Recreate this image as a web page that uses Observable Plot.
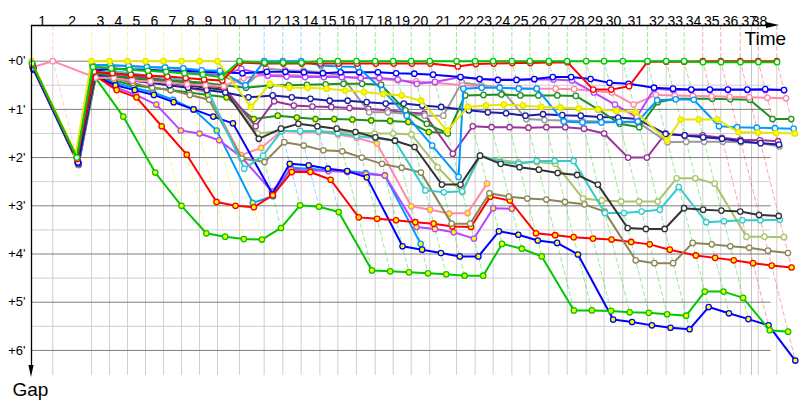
<!DOCTYPE html>
<html><head><meta charset="utf-8">
<script src="https://cdn.jsdelivr.net/npm/d3@7"></script>
<script src="https://cdn.jsdelivr.net/npm/@observablehq/plot@0.6"></script>
<style>body{margin:0;background:#fff;} #chart svg{display:block;}</style>
</head><body><div id="chart"></div>
<script>
// Leader's lap completion times (minutes), lap 0..38
const leaderTime = [0, 1.775, 5.0, 6.5, 8.0, 9.5, 11.0, 12.5, 14.0, 15.5, 17.33, 19.39, 20.94, 22.47, 24.03, 25.53, 27.08, 28.64, 30.14, 31.64, 33.19, 35.42, 36.97, 38.47, 40.03, 41.53, 43.11, 44.64, 46.22, 47.72, 49.28, 51.33, 52.89, 54.39, 55.94, 57.44, 59.06, 60.56, 62.11];
const raceEnd = 60;
const lapLabels = d3.range(1, 39).map(String);
const yTickLabels = ["+0'", "+1'", "+2'", "+3'", "+4'", "+5'", "+6'"];
// colour of the leader on each lap (1..38)
const lapLeaderColor = ["#ff88a8","#e6e600","#e6e600","#e6e600","#e6e600","#e6e600","#e6e600","#e6e600","#e6e600","#00c800","#0099ff","#0099ff","#0099ff","#00c800","#00c800","#00c800","#00c800","#00c800","#00c800","#00c800","#00c800","#00c800","#00c800","#00c800","#00c800","#00c800","#00c800","#00c800","#00c800","#00c800","#00c800","#00c800","#00c800","#ff2020","#ff2020","#ff2020","#ff2020","#ff2020"];

// gaps to leader (minutes) per lap, from lap 0
const gLB2 = [0.14,2.13,0.28, 0.45,0.55,0.65,0.8,1.0,1.44,2.94, 2.8, 2.21,2.23,2.27,2.28,2.32,2.37,3.79];
const gV2  = [0.15,2.1,0.3, 0.55,0.7,0.9,1.44,1.5,1.64,1.99, 2.7, 2.25,2.27,2.28,2.3,2.34,2.37,3.44,3.48,3.55,3.68, 3.05,3.06];
const gP2  = [0.13,2.08,0.3, 0.35,0.4,0.45,0.5,0.55,0.65,1.95, 1.8, 1.45,1.47,1.47,1.52,1.59,1.71,3.01,3.08,3.16,3.15, 2.54];
const gDG2 = [0.12,2.1,0.3, 0.4,0.5,0.55,0.6,0.65,0.7,0.75, 1.2, 1.13,1.17,1.2,1.2,1.21,1.23,1.24,1.26,1.47,1.49];
const gB2  = [0.18,2.15,0.3, 0.5,0.6,0.7,0.85,1.0,1.15,1.29, 2.75, 2.13,2.16,2.23,2.28,2.41,3.84,3.91,3.98,4.05,4.05, 3.53,3.6,3.72,3.77,4.01, 5.36,5.41,5.48,5.53,5.56, 5.1,5.23,5.35,5.48,6.21];
const gG2  = [0.12,2.1,0.35, 1.15,2.31,3.0,3.57,3.64,3.69,3.70, 3.46, 2.99,3.02,3.13,4.34,4.36,4.38,4.40,4.42,4.45,4.45, 3.79,3.89,4.05,5.17,5.17, 5.18,5.21,5.22,5.25,5.28, 4.78,4.78,4.91,5.58,5.61];
const gR2  = [0.1,2.1,0.3, 0.6,0.75,1.35,1.94,2.92,3.0,3.03, 2.78, 2.3,2.3,2.46,3.24,3.27,3.3,3.34,3.37,3.43,3.44, 2.81,2.89,3.57,3.61,3.65, 3.68,3.70,3.75,3.80,3.91, 4.03,4.08,4.13,4.19,4.24,4.28];
const gO1  = [0.16,2.15,0.35, 0.35,0.45,0.55,0.6,0.7,0.8,2.02, 2.09, 1.68,1.75,1.85,1.87,2.0,2.13,2.21,2.31,3.37,3.37, 2.74,2.81,2.85,2.87,2.92, 2.97,3.12,4.13,4.19,4.19, 3.77,3.8,3.84,3.87,3.93,3.98];
const gYG1 = [0.11,2.06,0.25, 0.25,0.3,0.35,0.4,0.45,0.5,0.6, 1.5, 1.45,1.45,1.46,1.47,1.48,1.5,1.5,1.52,2.2,2.72, 1.96,2.05,2.1,2.09,2.13, 2.85,2.89,2.91,2.91,2.91, 2.43,2.43,2.54,3.64,3.64,3.65];
const gT1  = [0.09,2.05,0.2, 0.2,0.25,0.3,0.35,0.4,0.5,2.23, 1.96, 1.45,1.45,1.45,1.5,1.55,1.6,1.65,2.68,2.72,2.7, 1.96,2.09,2.13,2.07,2.07, 2.07,3.15,3.15,3.12,3.08, 2.61,3.34,3.32,3.3,3.3,3.29];
const gK1  = [0.13,2.1,0.3, 0.3,0.35,0.4,0.45,0.5,0.55,0.6, 1.61, 1.4,1.3,1.35,1.4,1.47,1.58,1.65,1.78,2.56,2.56, 1.96,2.13,2.2,2.25,2.32, 2.36,2.56,3.46,3.48,3.48, 3.05,3.08,3.1,3.12,3.19,3.21];
const gPu1 = [0.12,2.07,0.28, 0.25,0.3,0.35,0.4,0.45,0.5,0.55, 1.35, 0.83,0.92,0.94,0.95,0.97,0.99,1.02,1.06,1.09,1.92, 1.35,1.37,1.37,1.38,1.37, 1.37,1.4,1.5,2.0,2.0, 1.5,1.54,1.54,1.59,1.63,1.64,1.66];
const gGr1 = [0.06,2.0,0.1, 0.1,0.1,0.12,0.14,0.15,0.2,0.3, 0.5, 0.15,0.19,0.2,0.23,0.3,1.06,1.06,1.09,1.13,1.13, 0.44,0.5,0.54,1.2,1.22, 1.23,1.24,1.25,1.26,1.27, 1.68,1.67,1.67,1.67,1.68,1.7,1.77];
const gN1  = [0.14,2.12,0.3, 0.3,0.4,0.45,0.5,0.55,0.6,0.65, 0.75, 0.71,0.75,0.78,0.82,0.82,0.85,0.88,0.88,0.92,0.95, 1.02,1.06,1.08,1.13,1.1, 1.12,1.13,1.16,1.17,1.2, 1.51,1.54,1.58,1.61,1.66,1.7,1.73];
const gDG1 = [0.1,2.08,0.25, 0.3,0.35,0.38,0.4,0.42,0.45,0.5, 0.55, 0.5,0.5,0.49,0.48,0.47,0.47,0.49,1.02,1.3,1.5, 0.71,0.7,0.69,0.71,0.71, 0.71,0.72,1.0,1.3,1.37, 0.85,0.78,0.78,0.78,0.79,0.8,1.2,1.2];
const gP1  = [0.12,0,0.34, 0.35,0.4,0.42,0.45,0.48,0.5,0.52, 0.35, 0.28,0.28,0.3,0.3,0.32,0.35,0.37,0.4,0.42,0.45, 0.5,0.52,0.55,0.56,0.57, 0.57,0.58,0.62,0.65,0.9, 0.7,0.71,0.72,0.73,0.74,0.75,0.76,0.77];
const gV1  = [0.1,2.05,0.18, 0.15,0.18,0.2,0.22,0.24,0.26,0.29, 0.16, 0.3,0.32,0.33,0.33,0.33,0.35,0.35,0.38,0.47,0.43, 0.33,0.37,0.38,0.38,0.38, 0.38,0.4,0.65,0.9,1.16, 0.57,0.6,0.6,0.6,0.6,0.6,0.6,0.6];
const gB1  = [0.15,2.10,0.2, 0.15,0.17,0.18,0.2,0.2,0.22,0.23, 0.25, 0.22,0.22,0.23,0.25,0.23,0.23,0.23,0.25,0.26,0.28, 0.33,0.37,0.39,0.39,0.37, 0.33,0.33,0.37,0.45,0.47, 0.55,0.57,0.59,0.59,0.59,0.59,0.58,0.6];
const gLB1 = [0.04,1.98,0.08, 0.08,0.10,0.12,0.13,0.15,0.19,0.2, 0.5, 0,0,0, 0.09,0.11,0.12, 0.6,1.13,1.75,2.4, 0.57,0.55,0.55,0.57,0.57, 1.25,1.27,1.27,1.26,1.25, 0.81,0.79,0.8, 1.35,1.37,1.38,1.39,1.40];
const gY1  = [0,1.92,0, 0,0,0,0,0,0,0, 0.95, 0.47,0.55,0.55,0.57,0.61,0.64,0.68,0.71,0.82,1.44, 0.95,0.92,0.9,0.92,0.95, 0.96,0.98,1.0,1.03,1.06, 1.64,1.21,1.21,1.21,1.47,1.48,1.49,1.5];
const gR1  = [0.08,2.03,0.22, 0.25,0.28,0.3,0.32,0.35,0.38,0.4, 0.03, 0.05,0.05,0.05,0.05,0.05,0.05,0.05,0.05,0.05,0.05, 0.11,0.06,0.05,0.04,0.04, 0.03,0.02,0.59,0.59,0.52, 0.01,0.01,0.01, 0,0,0,0,0];
const gG1  = [0.05,2.00,0.12, 0.15,0.18,0.20,0.22,0.25,0.28,0.33, 0, 0.03,0.03,0.03, 0,0,0,0,0,0,0, 0,0,0,0,0, 0,0,0,0,0, 0,0,0, 0.02,0.02,0.02,0.02,0.02];

// drawing order: first drawn = underneath
const driverNames  = ["LB2","V2","P2","DG2","B2","G2","R2","O1","YG1","T1","K1","Pu1","Gr1","N1","DG1","P1","V1","B1","LB1","Y1","R1","G1"];
const driverColors = ["#0099ff","#b845ff","#ff88a8","#1f8f1f","#0000ff","#00c800","#ff0000","#8a8656","#a9c46a","#33cccc","#333333","#993399","#9a9a9a","#1c1ca8","#1f8f1f","#ff88a8","#b845ff","#0000ff","#0099ff","#e6e600","#ff0000","#00c800"];
const driverFills  = ["#ffff00","#ffff00","#ffff00","#ffff00","#ffff00","#ffff00","#ffff00","#ffffff","#ffffff","#ffffff","#ffffff","#ffffff","#ffffff","#ffffff","#ffffff","#ffffff","#ffffff","#ffffff","#ffffff","#ffff00","#ffffff","#ffffff"];
const driverGaps   = [gLB2,gV2,gP2,gDG2,gB2,gG2,gR2,gO1,gYG1,gT1,gK1,gPu1,gGr1,gN1,gDG1,gP1,gV1,gB1,gLB1,gY1,gR1,gG1];

// ---- build tables ----
const yTop = -0.74, yBottom = 6.52;
const points = driverNames.map((name, i) => driverGaps[i].map((g, lap) => ({name, lap, g, t: leaderTime[lap] + g})));
const maxGap = d3.range(1, 39).map(lap => d3.max(driverGaps, s => s[lap] ?? 0));
const lapLines = [];
for (let lap = 1; lap <= 38; lap++) {
  const T = leaderTime[lap], m = maxGap[lap - 1];
  lapLines.push({lap, t: T, g: yTop}, {lap, t: T, g: 0}, {lap, t: T + m, g: m});
}
const gridRight = 61.64;
const hMajor = d3.range(0, 7).map(g => ({g, x1: 0, x2: gridRight}));
const hMinor = d3.range(0, 6).map(k => ({g: k + 0.5, x1: 0, x2: gridRight}));
const vGrid = leaderTime.slice(1).map(t => ({t, y1: 0, y2: yBottom}));
const vEnd = [{t: raceEnd, y1: yTop, y2: yBottom}];
const pxX = 12, pxY = 48.22; // px per minute
const arrowLenX = 13 / pxX, arrowHalfY = 3 / pxY;
const xTip = gridRight + 0.1 + arrowLenX * 0.55;
const topArrow = [{t: xTip - arrowLenX, a: yTop - arrowHalfY, b: yTop + arrowHalfY}, {t: xTip, a: yTop, b: yTop}];
const yTip = 6.56, arrowLenY = 12 / pxY, arrowHalfX = 2.6 / pxX;
const leftArrow = [{g: yTip - arrowLenY, a: -arrowHalfX, b: arrowHalfX}, {g: yTip, a: 0, b: 0}];
const lapLabelPos = lapLabels.map((d, i) => ({text: d, t: Math.min((leaderTime[i] + leaderTime[i + 1]) / 2, leaderTime[37] + 0.1)}));

const marks = [
  Plot.ruleY(hMinor, {y: "g", x1: "x1", x2: "x2", stroke: "#cfcfcf", strokeWidth: 1}),
  Plot.ruleX(vGrid, {x: "t", y1: "y1", y2: "y2", stroke: "#cfcfcf", strokeWidth: 1}),
  Plot.ruleX(vEnd, {x: "t", y1: "y1", y2: "y2", stroke: "#c4c4c4", strokeWidth: 1}),
  Plot.ruleY(hMajor, {y: "g", x1: "x1", x2: "x2", stroke: "#7f7f7f", strokeWidth: 1}),
  Plot.line(lapLines, {x: "t", y: "g", z: "lap", stroke: d => lapLeaderColor[d.lap - 1], strokeOpacity: 0.4, strokeWidth: 1, strokeDasharray: "4,3"}),
];
points.forEach((pts, i) => {
  marks.push(Plot.line(pts, {x: "t", y: "g", stroke: driverColors[i], strokeWidth: 2}));
  marks.push(Plot.dot(pts, {x: "t", y: "g", r: 2.7, stroke: driverColors[i], fill: driverFills[i], strokeWidth: 1.3}));
});
marks.push(
  Plot.ruleY([{g: yTop, x1: 0, x2: xTip - arrowLenX}], {y: "g", x1: "x1", x2: "x2", stroke: "#000", strokeWidth: 1.3}),
  Plot.areaY(topArrow, {x: "t", y1: "a", y2: "b", fill: "#000"}),
  Plot.ruleX([{t: 0, y1: yTop, y2: yTip - arrowLenY}], {x: "t", y1: "y1", y2: "y2", stroke: "#000", strokeWidth: 1.3}),
  Plot.areaX(leftArrow, {y: "g", x1: "a", x2: "b", fill: "#000"}),
  Plot.text(lapLabelPos, {x: "t", y: () => yTop, text: "text", dy: -4, fontSize: 14, fill: "#000"}),
  Plot.text(yTickLabels, {x: () => 0, y: (d, i) => i, text: d => d, textAnchor: "end", dx: -6, fontSize: 13, fill: "#000"}),
  Plot.text(["Time"], {x: () => xTip - 35 / pxX, y: () => yTop + 13.5 / pxY, text: d => d, textAnchor: "start", fontSize: 19, fill: "#000"}),
  Plot.text(["Gap"], {x: () => -19 / pxX, y: () => yTip + 12 / pxY, text: d => d, textAnchor: "start", fontSize: 19, fill: "#000"})
);

const chart = Plot.plot({
  width: 800, height: 400,
  marginLeft: 31, marginRight: 0, marginTop: 25, marginBottom: 25,
  x: {domain: [0, 769 / pxX], range: [31, 800], axis: null},
  y: {domain: [yTop, yBottom], range: [25, 375], axis: null},
  style: {fontFamily: "'Liberation Sans', Arial, sans-serif", background: "#fff"},
  marks
});
document.getElementById("chart").appendChild(chart);
</script>
</body></html>
